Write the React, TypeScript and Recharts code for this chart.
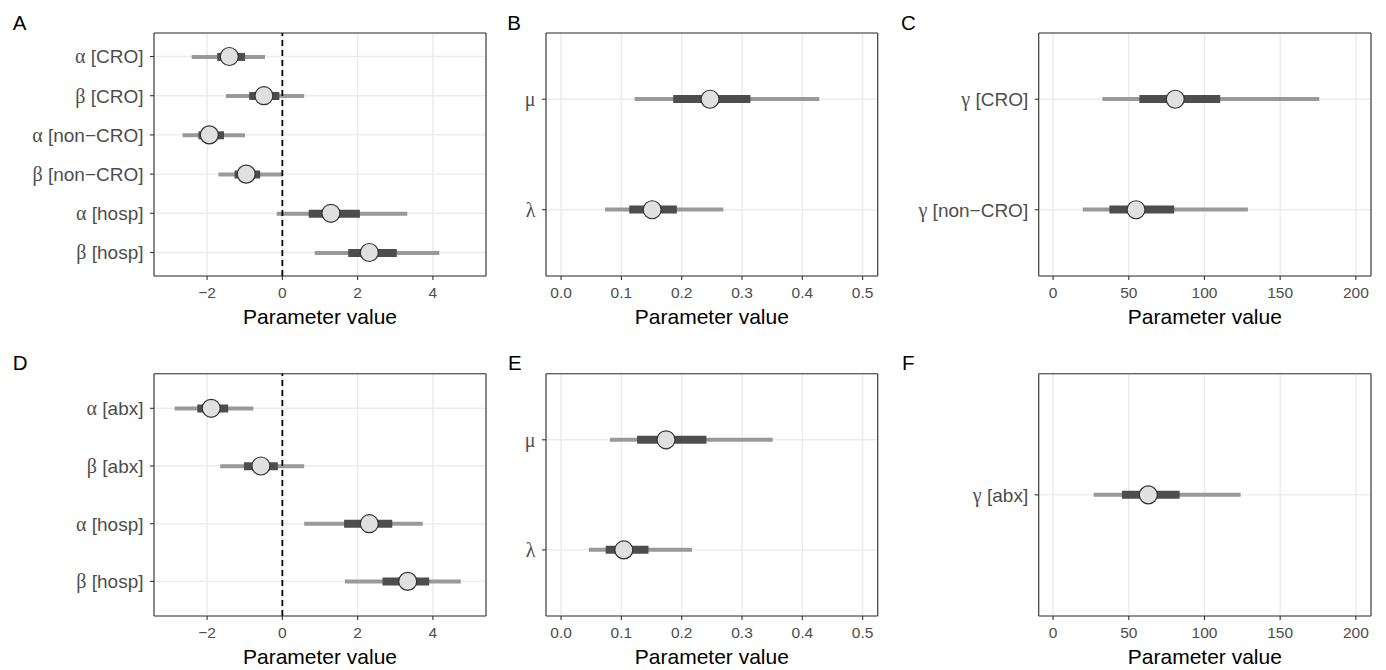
import React from 'react';
import { ComposedChart, Bar, Line, XAxis, YAxis, CartesianGrid, ReferenceLine } from 'recharts';

const FONT = '"Liberation Sans", Arial, Helvetica, sans-serif';
const GREEK_FONT = '"Liberation Serif", "DejaVu Serif", serif';

// ---------- Panel A ----------
const A_LABELS = ['α [CRO]', 'β [CRO]', 'α [non−CRO]', 'β [non−CRO]', 'α [hosp]', 'β [hosp]'];
const A_MED = [-1.41, -0.49, -1.94, -0.96, 1.29, 2.31];
const A_IN_LO = [-1.73, -0.88, -2.23, -1.27, 0.7, 1.75];
const A_IN_HI = [-0.99, -0.08, -1.55, -0.59, 2.06, 3.04];
const A_OUT_LO = [-2.41, -1.5, -2.65, -1.7, -0.15, 0.86];
const A_OUT_HI = [-0.46, 0.58, -0.99, 0.0, 3.32, 4.17];

// ---------- Panel B ----------
const B_LABELS = ['μ', 'λ'];
const B_MED = [0.247, 0.151];
const B_IN_LO = [0.186, 0.113];
const B_IN_HI = [0.314, 0.192];
const B_OUT_LO = [0.122, 0.073];
const B_OUT_HI = [0.428, 0.269];

// ---------- Panel C ----------
const C_LABELS = ['γ [CRO]', 'γ [non−CRO]'];
const C_MED = [80.7, 54.8];
const C_IN_LO = [57, 37.2];
const C_IN_HI = [110.4, 80];
const C_OUT_LO = [32.6, 19.6];
const C_OUT_HI = [175.8, 128.7];

// ---------- Panel D ----------
const D_LABELS = ['α [abx]', 'β [abx]', 'α [hosp]', 'β [hosp]'];
const D_MED = [-1.89, -0.57, 2.31, 3.33];
const D_IN_LO = [-2.26, -1.02, 1.64, 2.66];
const D_IN_HI = [-1.44, -0.12, 2.92, 3.9];
const D_OUT_LO = [-2.86, -1.65, 0.58, 1.66];
const D_OUT_HI = [-0.77, 0.58, 3.73, 4.74];

// ---------- Panel E ----------
const E_LABELS = ['μ', 'λ'];
const E_MED = [0.174, 0.104];
const E_IN_LO = [0.126, 0.074];
const E_IN_HI = [0.241, 0.145];
const E_OUT_LO = [0.081, 0.046];
const E_OUT_HI = [0.351, 0.217];

// ---------- Panel F ----------
const F_LABELS = ['γ [abx]'];
const F_MED = [62.9];
const F_IN_LO = [45.5];
const F_IN_HI = [83.6];
const F_OUT_LO = [26.8];
const F_OUT_HI = [123.9];

// ---------- Axis ticks ----------
const COEF_DOMAIN = [-3.41, 5.41];
const COEF_MAJOR = [-2, 0, 2, 4];
const COEF_MINOR = [-3, -1, 1, 3, 5];
const RATE_DOMAIN = [-0.025, 0.525];
const RATE_MAJOR = [0, 0.1, 0.2, 0.3, 0.4, 0.5];
const RATE_MINOR = [0.05, 0.15, 0.25, 0.35, 0.45];
const GAMMA_DOMAIN = [-9.5, 210];
const GAMMA_MAJOR = [0, 50, 100, 150, 200];
const GAMMA_MINOR = [25, 75, 125, 175];

const PANEL_LETTERS = ['A', 'B', 'C', 'D', 'E', 'F'];

const fmtInt = (v: number) => (v < 0 ? '\u2212' + Math.abs(v) : String(v));
const fmtDec = (v: number) => v.toFixed(1);

const renderYTick = (props: any) => {
  const { x, y, payload } = props;
  const s: string = String(payload.value);
  const g = s.charAt(0);
  const rest = s.slice(1);
  return (
    <text x={x} y={y} dy="0.36em" textAnchor="end" fill="#4D4D4D" fontSize={19} fontFamily={FONT}>
      <tspan fontFamily={GREEK_FONT} fontSize={20}>{g}</tspan>
      {rest ? <tspan fontFamily={FONT}>{rest}</tspan> : null}
    </text>
  );
};

const AX = { stroke: '#333333', strokeWidth: 1.1 };

function Panel(p: any) {
  const rows = p.labels.map((name: string, i: number) => ({
    name,
    median: p.med[i],
    inner: [p.inLo[i], p.inHi[i]],
    outer: [p.outLo[i], p.outHi[i]],
  }));
  const plotH = 335 - p.mt - 59;
  const n = p.labels.length;
  const pad = n > 1 ? 0.1 * (plotH / (n + 0.2)) : 0;
  return (
    <div style={{ position: 'absolute', left: p.left, top: p.top }}>
      <ComposedChart
        layout="vertical"
        width={p.width}
        height={335}
        data={rows}
        margin={{ top: p.mt - 1, right: p.mr - 1, bottom: 0, left: 0 }}
      >
        <CartesianGrid xAxisId="minor" horizontal={false} stroke="#EBEBEB" strokeWidth={0.8} />
        <CartesianGrid stroke="#EBEBEB" strokeWidth={1.4} />
        <XAxis
          type="number"
          domain={p.domain}
          ticks={p.major}
          allowDataOverflow
          tickFormatter={p.fmt}
          height={59}
          tickSize={4}
          tickMargin={7}
          tick={{ fill: '#4D4D4D', fontSize: 15.5, fontFamily: FONT }}
          tickLine={AX}
          axisLine={AX}
          interval={0}
          label={{ value: 'Parameter value', position: 'insideBottom', offset: 11, fill: '#000000', fontSize: 21, fontFamily: FONT }}
        />
        <XAxis
          xAxisId="minor"
          orientation="top"
          type="number"
          domain={p.domain}
          ticks={p.minor}
          allowDataOverflow
          height={1}
          tick={false}
          tickLine={false}
          axisLine={AX}
          interval={0}
        />
        <YAxis
          type="category"
          dataKey="name"
          width={p.yw}
          padding={{ top: pad, bottom: pad }}
          tick={renderYTick}
          tickSize={4}
          tickMargin={6.5}
          tickLine={AX}
          axisLine={AX}
          interval={0}
        />
        <YAxis
          yAxisId="inner"
          orientation="right"
          type="category"
          dataKey="name"
          width={1}
          padding={{ top: pad, bottom: pad }}
          tick={false}
          tickLine={false}
          axisLine={AX}
        />
        <Bar dataKey="outer" barSize={4} fill="#999999" isAnimationActive={false} />
        <Bar dataKey="inner" yAxisId="inner" barSize={8} fill="#4D4D4D" isAnimationActive={false} />
        {p.zero ? <ReferenceLine x={0} stroke="#000000" strokeDasharray="6 4" strokeWidth={1.8} /> : null}
        <Line
          dataKey="median"
          stroke="none"
          dot={{ r: 9, fill: '#E0E0E0', stroke: '#333333', strokeWidth: 1.2 }}
          activeDot={false}
          isAnimationActive={false}
        />
      </ComposedChart>
    </div>
  );
}

export default function App() {
  const letterPos = [
    [12.7, 30], [507.3, 30], [901, 30],
    [12.7, 370], [508, 370], [902, 370],
  ];
  return (
    <div style={{ position: 'absolute', left: 0, top: 0, width: 1386, height: 670, overflow: 'hidden', background: '#ffffff', fontFamily: FONT }}>
      <Panel labels={A_LABELS} med={A_MED} inLo={A_IN_LO} inHi={A_IN_HI} outLo={A_OUT_LO} outHi={A_OUT_HI}
        domain={COEF_DOMAIN} major={COEF_MAJOR} minor={COEF_MINOR} fmt={fmtInt} zero
        left={0} top={0} width={490} yw={154} mr={4} mt={33} />
      <Panel labels={B_LABELS} med={B_MED} inLo={B_IN_LO} inHi={B_IN_HI} outLo={B_OUT_LO} outHi={B_OUT_HI}
        domain={RATE_DOMAIN} major={RATE_MAJOR} minor={RATE_MINOR} fmt={fmtDec}
        left={490} top={0} width={400} yw={56} mr={12.3} mt={33} />
      <Panel labels={C_LABELS} med={C_MED} inLo={C_IN_LO} inHi={C_IN_HI} outLo={C_OUT_LO} outHi={C_OUT_HI}
        domain={GAMMA_DOMAIN} major={GAMMA_MAJOR} minor={GAMMA_MINOR} fmt={fmtInt}
        left={890} top={0} width={496} yw={148.7} mr={15} mt={33} />
      <Panel labels={D_LABELS} med={D_MED} inLo={D_IN_LO} inHi={D_IN_HI} outLo={D_OUT_LO} outHi={D_OUT_HI}
        domain={COEF_DOMAIN} major={COEF_MAJOR} minor={COEF_MINOR} fmt={fmtInt} zero
        left={0} top={340} width={490} yw={154} mr={4} mt={33.7} />
      <Panel labels={E_LABELS} med={E_MED} inLo={E_IN_LO} inHi={E_IN_HI} outLo={E_OUT_LO} outHi={E_OUT_HI}
        domain={RATE_DOMAIN} major={RATE_MAJOR} minor={RATE_MINOR} fmt={fmtDec}
        left={490} top={340} width={400} yw={56} mr={12.3} mt={33.7} />
      <Panel labels={F_LABELS} med={F_MED} inLo={F_IN_LO} inHi={F_IN_HI} outLo={F_OUT_LO} outHi={F_OUT_HI}
        domain={GAMMA_DOMAIN} major={GAMMA_MAJOR} minor={GAMMA_MINOR} fmt={fmtInt}
        left={890} top={340} width={496} yw={148.7} mr={15} mt={33.7} />
      <svg width={1386} height={670} style={{ position: 'absolute', left: 0, top: 0, pointerEvents: 'none' }}>
        {PANEL_LETTERS.map((l, i) => (
          <text key={l} x={letterPos[i][0]} y={letterPos[i][1]} fontSize={20.5} fontFamily={FONT} fill="#000000">{l}</text>
        ))}
      </svg>
    </div>
  );
}
